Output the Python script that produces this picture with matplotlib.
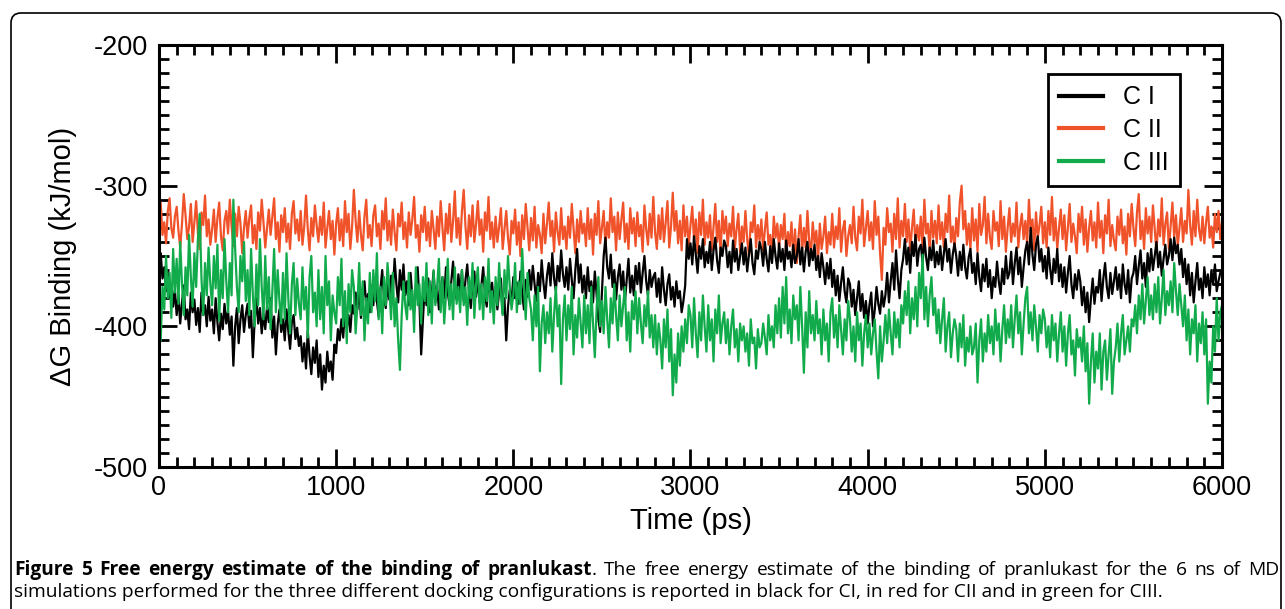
import numpy as np
import matplotlib
matplotlib.use('Agg')
import matplotlib.pyplot as plt
from matplotlib.ticker import MultipleLocator
from matplotlib.patches import FancyBboxPatch
from matplotlib.transforms import IdentityTransform

plt.rcParams['font.family'] = ['Liberation Sans', 'DejaVu Sans']
plt.rcParams['axes.unicode_minus'] = False

# one value every 10 ps, 0 .. 6000 ps (one row = 100 ps)
step_ps = 10

# C I (black)
c1 = [-352, -348, -366, -358, -375, -362, -380, -370, -386, -374,
      -392, -378, -398, -383, -371, -395, -388, -402, -376, -390,
      -381, -399, -387, -404, -376, -392, -385, -400, -379, -396,
      -388, -405, -380, -397, -410, -391, -402, -384, -398, -389,
      -406, -393, -428, -400, -387, -412, -395, -385, -404, -392,
      -384, -401, -389, -422, -396, -380, -398, -387, -405, -391,
      -402, -386, -397, -380, -408, -393, -420, -399, -388, -404,
      -395, -410, -388, -403, -416, -397, -392, -409, -401, -414,
      -407, -425, -412, -430, -403, -421, -434, -415, -426, -410,
      -436, -420, -445, -428, -440, -418, -432, -425, -438, -413,
      -419, -402, -410, -395, -408, -386, -401, -392, -404, -385,
      -391, -376, -388, -372, -394, -380, -368, -386, -377, -390,
      -371, -385, -366, -382, -393, -374, -360, -379, -387, -370,
      -381, -364, -376, -352, -370, -383, -360, -374, -356, -378,
      -368, -385, -362, -379, -390, -371, -358, -382, -420, -395,
      -372, -385, -366, -390, -376, -361, -383, -371, -388, -374,
      -365, -380, -358, -376, -385, -368, -354, -374, -381, -363,
      -377, -360, -382, -367, -356, -375, -387, -369, -361, -379,
      -366, -383, -371, -358, -377, -386, -364, -378, -369, -384,
      -372, -388, -375, -366, -391, -380, -410, -386, -374, -383,
      -365, -380, -369, -384, -361, -376, -388, -367, -379, -360,
      -374, -357, -370, -382, -362, -375, -353, -369, -380, -364,
      -355, -371, -348, -366, -375, -357, -368, -346, -363, -372,
      -358, -374, -352, -367, -380, -360, -345, -369, -356, -376,
      -364, -380, -358, -375, -368, -383, -361, -377, -395, -404,
      -376, -350, -337, -358, -366, -349, -372, -360, -381, -365,
      -356, -374, -361, -382, -367, -352, -376, -364, -378, -357,
      -370, -355, -376, -362, -350, -368, -378, -360, -372, -365,
      -362, -379, -366, -383, -358, -374, -385, -370, -363, -381,
      -372, -386, -368, -380, -375, -390, -382, -371, -338, -352,
      -341, -356, -336, -349, -362, -343, -352, -338, -358, -347,
      -355, -340, -360, -346, -337, -353, -362, -344, -350, -339,
      -343, -358, -347, -362, -339, -354, -345, -360, -350, -341,
      -356, -344, -361, -349, -338, -355, -363, -346, -352, -340,
      -345, -357, -340, -352, -361, -343, -355, -338, -350, -359,
      -341, -354, -345, -360, -339, -352, -347, -358, -342, -355,
      -350, -338, -356, -344, -361, -347, -340, -357, -345, -353,
      -342, -360, -350, -365, -348, -358, -370, -355, -366, -352,
      -372, -360, -378, -364, -382, -369, -358, -375, -383, -366,
      -370, -386, -374, -392, -380, -368, -389, -377, -394, -382,
      -398, -385, -376, -400, -388, -372, -384, -391, -375, -386,
      -378, -362, -383, -368, -355, -374, -346, -366, -380, -360,
      -352, -338, -356, -344, -362, -340, -350, -335, -357, -345,
      -342, -355, -337, -351, -360, -344, -353, -339, -358, -347,
      -356, -343, -360, -348, -338, -354, -345, -362, -349, -341,
      -350, -364, -347, -360, -342, -358, -366, -351, -345, -362,
      -355, -370, -348, -365, -375, -356, -368, -352, -372, -360,
      -380, -365, -372, -354, -368, -377, -359, -370, -350, -366,
      -362, -347, -370, -355, -344, -363, -351, -372, -358, -346,
      -340, -356, -330, -349, -360, -342, -336, -354, -345, -361,
      -350, -366, -344, -359, -370, -352, -362, -345, -368, -356,
      -372, -358, -376, -362, -350, -370, -380, -363, -374, -360,
      -368, -385, -372, -390, -376, -397, -380, -366, -384, -372,
      -376, -360, -382, -366, -355, -372, -380, -362, -377, -368,
      -358, -374, -363, -380, -356, -370, -377, -360, -383, -366,
      -362, -350, -370, -357, -346, -366, -355, -372, -348, -361,
      -345, -360, -350, -340, -358, -347, -364, -352, -342, -356,
      -350, -338, -353, -337, -348, -342, -356, -345, -365, -352,
      -370, -356, -378, -362, -383, -368, -355, -374, -366, -380,
      -358, -372, -363, -378, -360, -370, -356, -375, -368, -362,
      -360]

# C II (red)
c2 = [-320, -312, -335, -326, -341, -318, -309, -330, -337, -322,
      -315, -332, -344, -327, -306, -321, -338, -329, -313, -340,
      -326, -311, -334, -345, -319, -328, -307, -336, -324, -342,
      -331, -317, -340, -323, -312, -336, -346, -325, -318, -334,
      -310, -329, -343, -320, -336, -315, -327, -348, -330, -318,
      -337, -323, -314, -341, -328, -345, -319, -332, -310, -326,
      -344, -330, -317, -335, -322, -309, -338, -326, -347, -321,
      -333, -316, -340, -327, -345, -320, -311, -334, -324, -339,
      -318, -342, -329, -307, -331, -346, -323, -336, -314, -328,
      -340, -322, -335, -312, -344, -330, -318, -338, -325, -349,
      -327, -316, -339, -324, -343, -311, -333, -320, -345, -329,
      -303, -325, -340, -318, -335, -346, -322, -310, -337, -328,
      -343, -321, -314, -336, -327, -345, -318, -331, -309, -339,
      -325, -342, -317, -333, -346, -320, -329, -312, -338, -326,
      -344, -319, -335, -324, -308, -337, -328, -347, -321, -333,
      -315, -339, -326, -343, -318, -331, -345, -322, -336, -311,
      -330, -346, -320, -334, -313, -340, -325, -304, -337, -323,
      -342, -318, -303, -329, -345, -321, -336, -314, -340, -327,
      -311, -335, -324, -347, -319, -332, -308, -338, -326, -344,
      -322, -340, -329, -316, -345, -331, -318, -337, -349, -325,
      -334, -317, -342, -326, -350, -321, -338, -313, -330, -346,
      -323, -339, -315, -344, -328, -335, -348, -320, -341, -327,
      -312, -336, -325, -347, -319, -333, -342, -316, -338, -329,
      -345, -322, -337, -313, -330, -348, -324, -340, -318, -334,
      -327, -343, -316, -338, -324, -349, -320, -335, -311, -341,
      -330, -318, -344, -326, -337, -309, -333, -322, -346, -319,
      -338, -324, -312, -340, -327, -345, -316, -334, -323, -343,
      -319, -336, -328, -347, -314, -331, -342, -320, -337, -308,
      -333, -345, -321, -338, -316, -340, -326, -311, -344, -329,
      -305, -332, -318, -341, -325, -346, -314, -336, -322, -343,
      -328, -315, -339, -324, -348, -319, -335, -310, -342, -326,
      -337, -321, -346, -330, -313, -340, -325, -349, -318, -334,
      -322, -343, -327, -336, -315, -345, -331, -320, -347, -329,
      -340, -318, -338, -350, -326, -333, -314, -344, -328, -339,
      -324, -346, -331, -319, -342, -335, -351, -322, -337, -327,
      -345, -328, -338, -320, -350, -333, -343, -326, -352, -331,
      -355, -336, -321, -347, -330, -344, -318, -339, -349, -326,
      -341, -332, -353, -327, -345, -336, -322, -348, -333, -342,
      -320, -344, -329, -338, -316, -347, -331, -325, -350, -336,
      -328, -341, -315, -337, -346, -322, -334, -310, -343, -330,
      -318, -339, -326, -345, -311, -335, -322, -348, -367, -330,
      -342, -316, -333, -327, -347, -320, -338, -309, -344, -325,
      -336, -313, -340, -324, -346, -330, -317, -343, -328, -339,
      -322, -345, -310, -334, -327, -348, -318, -337, -325, -341,
      -314, -338, -326, -344, -320, -333, -307, -340, -329, -346,
      -323, -336, -312, -300, -331, -318, -342, -327, -345, -316,
      -339, -324, -347, -313, -335, -328, -308, -341, -320, -337,
      -345, -318, -332, -326, -343, -311, -338, -322, -347, -330,
      -316, -340, -327, -336, -312, -344, -329, -320, -338, -325,
      -342, -310, -333, -324, -346, -319, -337, -328, -315, -341,
      -326, -344, -318, -335, -308, -339, -323, -345, -330, -317,
      -338, -321, -346, -329, -313, -340, -327, -336, -348, -320,
      -333, -315, -342, -324, -347, -330, -318, -339, -326, -344,
      -312, -337, -325, -348, -321, -334, -310, -343, -328, -339,
      -346, -322, -335, -317, -341, -329, -349, -320, -336, -313,
      -330, -343, -319, -306, -338, -325, -345, -316, -334, -322,
      -340, -314, -331, -347, -324, -336, -309, -342, -327, -319,
      -345, -328, -312, -337, -321, -343, -330, -316, -340, -325,
      -334, -303, -328, -342, -318, -336, -310, -331, -339, -322,
      -341, -326, -315, -337, -329, -344, -320, -333, -318, -338,
      -326]

# C III (green)
c3 = [-395, -410, -372, -388, -350, -380, -362, -394, -345, -376,
      -352, -384, -340, -370, -392, -358, -378, -335, -365, -386,
      -348, -372, -338, -320, -366, -392, -355, -378, -344, -370,
      -385, -350, -373, -342, -396, -360, -380, -338, -368, -390,
      -355, -378, -310, -345, -372, -390, -350, -368, -340, -382,
      -360, -392, -345, -378, -400, -356, -385, -338, -372, -395,
      -350, -388, -365, -402, -375, -345, -390, -360, -382, -398,
      -362, -395, -348, -380, -405, -370, -355, -392, -366, -384,
      -395, -358, -388, -372, -408, -365, -350, -390, -376, -400,
      -360, -395, -372, -405, -350, -385, -368, -410, -378, -390,
      -398, -365, -385, -352, -400, -375, -412, -370, -390, -360,
      -372, -405, -385, -355, -392, -368, -410, -380, -398, -362,
      -390, -360, -382, -348, -395, -372, -405, -365, -385, -355,
      -372, -395, -362, -400, -380, -410, -431, -392, -368, -385,
      -395, -362, -388, -374, -404, -358, -385, -370, -398, -365,
      -382, -355, -392, -368, -398, -360, -385, -372, -352, -390,
      -365, -398, -378, -352, -388, -370, -395, -358, -384, -372,
      -390, -360, -385, -372, -399, -365, -380, -355, -394, -370,
      -358, -388, -370, -395, -365, -382, -352, -390, -375, -398,
      -365, -385, -355, -378, -392, -360, -380, -350, -372, -388,
      -378, -355, -390, -368, -384, -345, -372, -395, -362, -380,
      -388, -410, -378, -400, -372, -432, -398, -385, -412, -390,
      -405, -380, -418, -392, -372, -400, -385, -441, -395, -378,
      -410, -385, -402, -372, -420, -392, -408, -380, -398, -415,
      -378, -405, -385, -412, -372, -398, -422, -388, -365, -400,
      -382, -405, -372, -395, -415, -380, -398, -370, -392, -410,
      -378, -400, -385, -372, -410, -390, -418, -382, -395, -375,
      -405, -380, -398, -412, -385, -400, -375, -408, -392, -415,
      -392, -420, -398, -410, -430, -395, -415, -388, -425, -402,
      -449, -420, -440, -405, -428, -400, -418, -395, -412, -385,
      -392, -415, -380, -405, -422, -390, -410, -378, -400, -418,
      -385, -410, -395, -425, -388, -405, -378, -412, -398, -390,
      -412, -395, -420, -400, -388, -415, -402, -425, -398, -410,
      -400, -418, -405, -428, -395, -412, -408, -430, -402, -415,
      -412, -398, -408, -420, -392, -410, -400, -415, -385, -405,
      -380, -408, -372, -398, -365, -405, -388, -412, -378, -395,
      -385, -410, -372, -400, -433, -390, -415, -375, -405, -392,
      -410, -382, -405, -395, -420, -388, -410, -398, -425, -390,
      -380, -408, -392, -415, -385, -402, -420, -395, -410, -382,
      -395, -418, -400, -425, -390, -410, -398, -428, -405, -392,
      -415, -398, -420, -405, -395, -418, -437, -400, -425, -410,
      -392, -412, -388, -405, -420, -390, -408, -395, -415, -385,
      -398, -375, -392, -368, -405, -380, -395, -372, -400, -362,
      -380, -349, -395, -372, -400, -378, -365, -392, -380, -405,
      -388, -412, -395, -380, -418, -400, -390, -422, -405, -395,
      -402, -425, -398, -415, -392, -428, -408, -418, -400, -420,
      -415, -398, -440, -410, -395, -425, -405, -418, -392, -412,
      -400, -420, -388, -410, -398, -425, -402, -385, -412, -395,
      -408, -385, -415, -395, -378, -405, -390, -420, -398, -380,
      -372, -405, -390, -410, -385, -400, -418, -392, -405, -388,
      -395, -415, -400, -422, -392, -410, -398, -425, -405, -390,
      -418, -400, -428, -405, -392, -420, -410, -435, -402, -415,
      -408, -425, -400, -432, -412, -455, -425, -405, -440, -418,
      -430, -405, -445, -418, -410, -438, -420, -402, -448, -425,
      -415, -398, -425, -405, -392, -420, -410, -400, -418, -395,
      -400, -385, -405, -378, -395, -370, -398, -382, -365, -392,
      -378, -395, -370, -390, -365, -398, -380, -360, -392, -375,
      -385, -368, -390, -355, -375, -392, -370, -385, -400, -378,
      -410, -388, -420, -395, -405, -385, -425, -398, -412, -390,
      -420, -395, -455, -425, -440, -400, -418, -380, -410, -390,
      -385]

labels = ['C I', 'C II', 'C III']
colors = ['black', '#f0522a', '#12ab4b']

fig = plt.figure(figsize=(12.85, 6.09), dpi=100)
ax = fig.add_axes([0.1237, 0.2332, 0.8273, 0.6929])

lw = 1.6
l2, = ax.plot(np.arange(len(c2)) * step_ps, c2, color=colors[1], lw=lw, label=labels[1])
l1, = ax.plot(np.arange(len(c1)) * step_ps, c1, color=colors[0], lw=lw, label=labels[0])
l3, = ax.plot(np.arange(len(c3)) * step_ps, c3, color=colors[2], lw=lw, label=labels[2])

ax.set_xlim(0, 6000)
ax.set_ylim(-500, -200)
ax.xaxis.set_major_locator(MultipleLocator(1000))
ax.xaxis.set_minor_locator(MultipleLocator(100))
ax.yaxis.set_major_locator(MultipleLocator(100))
ax.yaxis.set_minor_locator(MultipleLocator(10))
ax.tick_params(which='both', direction='in', top=True, right=True, width=2)
ax.tick_params(which='major', length=13, labelsize=19.5)
ax.tick_params(which='minor', length=7)
ax.tick_params(axis='x', which='major', pad=6)
ax.tick_params(axis='y', which='major', pad=8)
for s in ax.spines.values():
    s.set_linewidth(2.2)

ax.set_xlabel('Time (ps)', fontsize=21, labelpad=4)
ax.set_ylabel('\u0394G Binding (kJ/mol)', fontsize=21, labelpad=12)

leg = ax.legend(handles=[l1, l2, l3], loc='upper right', bbox_to_anchor=(0.9605, 0.931),
                borderaxespad=0, fancybox=False, edgecolor='black', framealpha=1,
                handlelength=1.75, handletextpad=0.8, borderpad=0.45, labelspacing=0.35,
                prop={'size': 18})
leg.get_frame().set_linewidth(2)
for h in leg.get_lines():
    h.set_linewidth(3)

# rounded frame around the figure panel
border = FancyBboxPatch((11, -30), 1270, 626, boxstyle='round,pad=0,rounding_size=10',
                        transform=IdentityTransform(), fill=False, edgecolor='black',
                        lw=1.2, figure=fig)
fig.patches.append(border)

# caption, first line justified between the frame margins
cap_size = 13.8
left_px, right_px = 14, 1279
line1 = [('Figure', 'bold', True), ('5', 'bold', True), ('Free', 'bold', True),
         ('energy', 'bold', True), ('estimate', 'bold', True), ('of', 'bold', True),
         ('the', 'bold', True), ('binding', 'bold', True), ('of', 'bold', True),
         ('pranlukast', 'bold', True), ('.', 'normal', False)]
line1 += [(w, 'normal', True) for w in
          'The free energy estimate of the binding of pranlukast for the 6 ns of MD'.split()]
line2 = ('simulations performed for the three different docking configurations is reported '
         'in black for CI, in red for CII and in green for CIII.')

y1 = 1 - 575 / 609
words = [fig.text(0, y1, w, fontsize=cap_size, fontweight=wt, family='Open Sans', va='baseline')
         for w, wt, sp in line1]
fig.canvas.draw()
renderer = fig.canvas.get_renderer()
widths = [t.get_window_extent(renderer).width for t in words]
n_gaps = sum(1 for w, wt, sp in line1[1:] if sp)
gap = (right_px - left_px - sum(widths)) / n_gaps
x = left_px
for i, t in enumerate(words):
    if i > 0 and line1[i][2]:
        x += gap
    t.set_x(x / 1285)
    x += widths[i]

fig.text(left_px / 1285, 1 - 597 / 609, line2, fontsize=cap_size, family='Open Sans',
         va='baseline')

fig.savefig('out.png', dpi=100)
